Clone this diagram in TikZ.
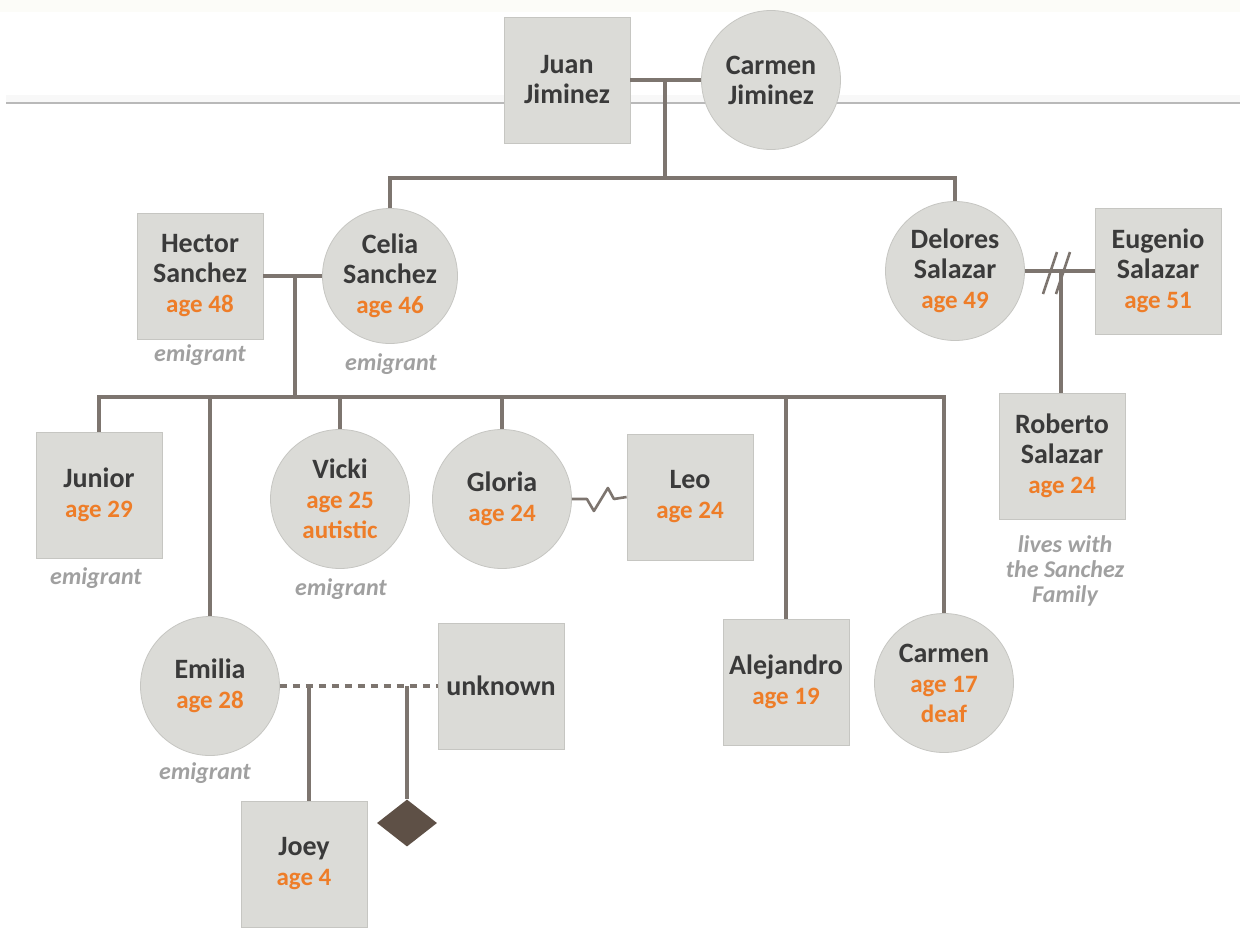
\documentclass[tikz,border=0pt]{standalone}
\usepackage{fontspec}
\setmainfont{Carlito}
\usetikzlibrary{shapes.geometric}
\definecolor{boxfill}{RGB}{219,219,215}
\definecolor{boxedge}{RGB}{198,198,194}
\definecolor{linec}{RGB}{125,117,111}
\definecolor{namec}{RGB}{58,58,58}
\definecolor{agec}{RGB}{238,125,40}
\definecolor{notec}{RGB}{160,160,160}
\definecolor{diamc}{RGB}{94,80,70}
\definecolor{topband}{RGB}{252,252,248}
\definecolor{ruleC}{RGB}{185,185,185}
\definecolor{ruleshade}{RGB}{248,248,248}
\newcommand\agetxt[1]{{\fontsize{25}{30}\selectfont\textcolor{agec}{#1}}}
\begin{document}
\begin{tikzpicture}[x=1pt,y=-1pt,
  male/.style={rectangle, minimum size=126pt, inner sep=0pt, fill=boxfill, draw=boxedge, line width=0.8pt, align=center, text=namec, font=\fontsize{28}{30}\selectfont\bfseries},
  female/.style={circle, minimum size=139pt, inner sep=0pt, fill=boxfill, draw=boxedge, line width=0.8pt, align=center, text=namec, font=\fontsize{28}{30}\selectfont\bfseries},
  note/.style={text=notec, font=\fontsize{24}{25}\selectfont\bfseries\itshape, align=center, inner sep=0pt},
  link/.style={draw=linec, line width=3.2pt},
  thinlink/.style={draw=linec, line width=2.6pt, line join=round},
]
\useasboundingbox (0,0) rectangle (1240,927);
\fill[white] (0,0) rectangle (1240,927);
\fill[topband] (0,0) rectangle (1240,12);
\fill[ruleshade] (6,95) rectangle (1240,102);
\draw[ruleC, line width=1.5pt] (6,103) -- (1240,103);

% persons
\node[male] (juan) at (567,80) {Juan\\Jiminez};
\node[female] (carmenJ) at (771,80) {Carmen\\Jiminez};
\node[male] (hector) at (200,276) {Hector\\Sanchez\\\agetxt{age 48}};
\node[female, minimum size=135pt] (celia) at (390,276) {Celia\\Sanchez\\\agetxt{age 46}};
\node[female] (delores) at (955,271) {Delores\\Salazar\\\agetxt{age 49}};
\node[male] (eugenio) at (1158,271) {Eugenio\\Salazar\\\agetxt{age 51}};
\node[male] (roberto) at (1062,456) {Roberto\\Salazar\\\agetxt{age 24}};
\node[male] (junior) at (99,495) {Junior\\\agetxt{age 29}};
\node[female] (vicki) at (340,499) {Vicki\\\agetxt{age 25}\\\agetxt{autistic}};
\node[female] (gloria) at (502,499) {Gloria\\\agetxt{age 24}};
\node[male] (leo) at (690,497) {Leo\\\agetxt{age 24}};
\node[female] (emilia) at (210,686) {Emilia\\\agetxt{age 28}};
\node[male] (unknown) at (501,686) {unknown};
\node[male] (joey) at (304,864) {Joey\\\agetxt{age 4}};
\node[diamond, fill=diamc, minimum width=60pt, minimum height=47pt, inner sep=0pt] (diam) at (407,823) {};
\node[male] (alejandro) at (786,682) {Alejandro\\\agetxt{age 19}};
\node[female] (carmen) at (944,683) {Carmen\\\agetxt{age 17}\\\agetxt{deaf}};

% notes
\node[note] (n1) at (200,355) {emigrant};
\node[note] (n2) at (391,364) {emigrant};
\node[note] (n3) at (96,578) {emigrant};
\node[note] (n4) at (341,589) {emigrant};
\node[note] (n5) at (205,773) {emigrant};
\node[note] (n6) at (1065,571) {lives with\\the Sanchez\\Family};

% generation 1
\coordinate (jm) at (665,80);
\coordinate (g2) at (665,178);
\draw[link] (juan.east) -- (carmenJ.west);
\draw[link] (jm) -- (g2);
\draw[link] (celia.north) |- (g2) -| (delores.north);

% Sanchez family
\coordinate (hc) at (295,276);
\coordinate (bus) at (295,397);
\draw[link] (hector.east) -- (celia.west);
\draw[link] (hc) -- (bus);
\draw[link] (junior.north) |- (bus) -| (carmen.north);
\draw[link] (emilia.north) -- (emilia.north |- bus);
\draw[link] (vicki.north) -- (vicki.north |- bus);
\draw[link] (gloria.north) -- (gloria.north |- bus);
\draw[link] (alejandro.north) -- (alejandro.north |- bus);

% Salazar family (divorced)
\coordinate (ds) at (1061,271);
\coordinate (sl1) at (1050,273);
\coordinate (sl2) at (1063,273);
\draw[link] (delores.east) -- (eugenio.west);
\draw[link] (ds) -- (ds |- roberto.north);
\draw[thinlink] (sl1) ++(-7,21) -- ++(14,-42);
\draw[thinlink] (sl2) ++(-7,21) -- ++(14,-42);

% Gloria - Leo (troubled relationship)
\draw[thinlink] (gloria.east) -- ++(15,0) -- ++(7,12) -- ++(14,-23) -- ++(6,11) -- (leo.west);

% Emilia - unknown
\coordinate (ej) at (309,686);
\coordinate (eu) at (407,686);
\draw[link, dash pattern=on 7pt off 6pt] (emilia.east) -- (unknown.west);
\draw[link] (ej) -- (ej |- joey.north);
\draw[link] (eu) -- (diam.north);
\end{tikzpicture}
\end{document}
